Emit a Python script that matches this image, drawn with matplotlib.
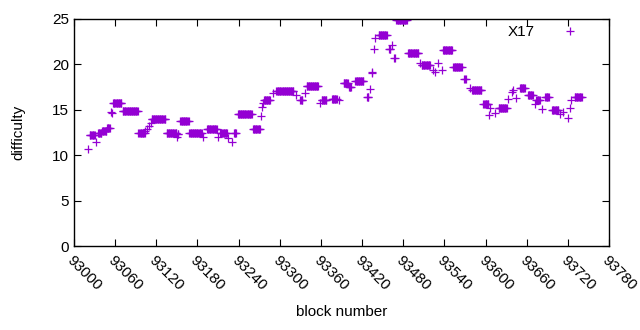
import numpy as np
import matplotlib
matplotlib.use('Agg')
import matplotlib.pyplot as plt

# runs of consecutive blocks sharing one difficulty (start block, end block, difficulty)
run_start = [93021, 93023, 93032, 93035, 93041, 93048, 93054, 93055, 93057, 93071, 93094,
             93104, 93107, 93110, 93112, 93113, 93135, 93150, 93151, 93155, 93168, 93188,
             93194, 93210, 93213, 93225, 93230, 93233, 93239, 93261, 93272, 93274, 93276,
             93277, 93290, 93295, 93324, 93330, 93337, 93339, 93358, 93361, 93376, 93386,
             93393, 93401, 93410, 93427, 93432, 93434, 93435, 93438, 93439, 93444, 93459,
             93464, 93467, 93470, 93487, 93504, 93507, 93524, 93526, 93531, 93536, 93538,
             93553, 93569, 93577, 93580, 93597, 93605, 93607, 93614, 93619, 93633, 93638,
             93640, 93644, 93650, 93662, 93672, 93674, 93682, 93687, 93697, 93709, 93713,
             93720, 93723, 93725, 93730]
run_end = [93021, 93030, 93032, 93040, 93047, 93052, 93054, 93055, 93069, 93093, 93103,
           93104, 93107, 93110, 93112, 93133, 93149, 93150, 93152, 93167, 93186, 93188,
           93208, 93210, 93223, 93225, 93230, 93236, 93259, 93271, 93272, 93274, 93276,
           93286, 93290, 93320, 93324, 93333, 93337, 93356, 93358, 93368, 93383, 93386,
           93399, 93404, 93422, 93429, 93432, 93434, 93435, 93438, 93439, 93456, 93461,
           93464, 93468, 93485, 93502, 93504, 93519, 93524, 93526, 93531, 93536, 93551,
           93565, 93571, 93577, 93594, 93604, 93605, 93607, 93614, 93631, 93633, 93638,
           93640, 93644, 93657, 93669, 93672, 93679, 93682, 93692, 93706, 93709, 93713,
           93720, 93723, 93725, 93740]
run_diff = [10.65, 12.2, 11.4, 12.5, 12.7, 13.0, 14.8, 14.65, 15.8, 14.85, 12.5,
            12.7, 12.9, 13.2, 13.5, 14.0, 12.5, 12.0, 12.3, 13.75, 12.4, 12.0,
            12.85, 12.0, 12.4, 11.9, 11.5, 12.4, 14.5, 12.85, 14.35, 15.3, 15.7,
            16.1, 16.8, 17.1, 16.6, 16.1, 16.9, 17.6, 15.7, 16.1, 16.2, 16.1,
            17.9, 17.55, 18.2, 16.45, 17.25, 19.2, 19.0, 21.75, 22.9, 23.25, 21.75,
            22.1, 20.65, 24.9, 21.3, 20.2, 19.9, 19.4, 19.2, 20.2, 19.4, 21.6,
            19.7, 18.4, 17.45, 17.2, 15.65, 14.4, 15.15, 14.6, 15.15, 16.15, 17.0,
            17.2, 16.25, 17.35, 16.6, 15.65, 16.1, 15.1, 16.45, 14.95, 14.5, 14.8,
            14.05, 15.15, 16.1, 16.4]

xticks = list(range(93000, 93781, 60))
yticks = [0, 5, 10, 15, 20, 25]

blocks = np.concatenate([np.arange(s, e + 1) for s, e in zip(run_start, run_end)])
diffs = np.concatenate([np.full(e - s + 1, d) for s, e, d in zip(run_start, run_end, run_diff)])

plt.rcParams['font.family'] = ['Liberation Sans', 'DejaVu Sans']
fig = plt.figure(figsize=(6.4, 3.3), dpi=100)
ax = fig.add_axes([74/640, 84/330, 535/640, 227/330])
ax.plot(blocks, diffs, ls='none', marker='+', ms=6, mew=0.9, color='#9400d3', label='X17')
ax.set_xlim(93000, 93780); ax.set_ylim(0, 25)
ax.set_xticks(xticks); ax.set_yticks(yticks)
ax.set_xticklabels([str(t) for t in xticks], rotation=-45, ha='left', va='top', rotation_mode='anchor', fontsize=11)
ax.set_yticklabels([str(t) for t in yticks], fontsize=11)
ax.tick_params(direction='in', top=True, right=True, length=5, width=0.8)
ax.tick_params(axis='x', pad=5)
for s in ax.spines.values(): s.set_linewidth(1)
ax.set_xlabel('block number', fontsize=11, labelpad=9)
ax.set_ylabel('difficulty', fontsize=11, labelpad=19)
ax.legend(loc='upper right', frameon=False, markerfirst=False, fontsize=11, handlelength=3.0,
          handletextpad=0.8, borderaxespad=0.3, bbox_to_anchor=(0.99, 1.02))
fig.savefig('out.png', dpi=100)
